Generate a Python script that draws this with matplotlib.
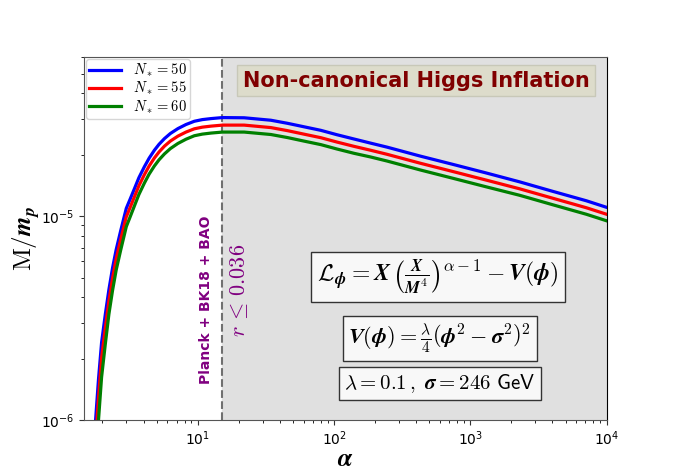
import matplotlib.pyplot as plt

plt.rcParams['mathtext.fontset'] = 'cm'

# alpha values (shared by all three curves)
alpha = [1.72, 1.78, 1.87, 1.97, 2.1, 2.23, 2.37, 2.52, 2.72, 2.99, 3.2, 3.44,
         3.7, 4.06, 4.4, 4.81, 5.2, 5.7, 6.3, 7.15, 8.2, 9.44, 10.8, 12.5, 15.2,
         21.9, 34.4, 45.5, 60, 80, 105, 140, 185, 245, 430, 750, 1300, 2300,
         4000, 7100, 10000]

# M/m_p
M_50 = [7.24e-7, 1.000e-6, 1.585e-6, 2.399e-6, 3.311e-6, 4.365e-6, 5.559e-6,
        6.839e-6, 8.472e-6, 1.091e-5, 1.216e-5, 1.368e-5, 1.542e-5, 1.746e-5,
        1.923e-5, 2.104e-5, 2.249e-5, 2.399e-5, 2.541e-5, 2.685e-5, 2.812e-5,
        2.917e-5, 2.972e-5, 3.006e-5, 3.041e-5, 3.034e-5, 2.951e-5, 2.851e-5,
        2.742e-5, 2.633e-5, 2.506e-5, 2.388e-5, 2.280e-5, 2.178e-5, 1.968e-5,
        1.791e-5, 1.629e-5, 1.472e-5, 1.324e-5, 1.189e-5, 1.104e-5]
M_55 = [5.754e-7, 7.943e-7, 1.288e-6, 2.018e-6, 2.851e-6, 3.846e-6, 4.955e-6,
        6.166e-6, 7.674e-6, 9.908e-6, 1.107e-5, 1.247e-5, 1.408e-5, 1.596e-5,
        1.760e-5, 1.928e-5, 2.062e-5, 2.203e-5, 2.333e-5, 2.466e-5, 2.582e-5,
        2.679e-5, 2.729e-5, 2.761e-5, 2.793e-5, 2.793e-5, 2.716e-5, 2.624e-5,
        2.523e-5, 2.423e-5, 2.307e-5, 2.198e-5, 2.104e-5, 2.009e-5, 1.816e-5,
        1.652e-5, 1.503e-5, 1.361e-5, 1.225e-5, 1.099e-5, 1.021e-5]
M_60 = [4.365e-7, 6.026e-7, 1.000e-6, 1.622e-6, 2.371e-6, 3.311e-6, 4.315e-6,
        5.433e-6, 6.808e-6, 8.872e-6, 9.954e-6, 1.127e-5, 1.276e-5, 1.452e-5,
        1.607e-5, 1.762e-5, 1.888e-5, 2.018e-5, 2.143e-5, 2.270e-5, 2.382e-5,
        2.477e-5, 2.523e-5, 2.553e-5, 2.582e-5, 2.582e-5, 2.512e-5, 2.427e-5,
        2.333e-5, 2.241e-5, 2.133e-5, 2.032e-5, 1.950e-5, 1.862e-5, 1.683e-5,
        1.531e-5, 1.393e-5, 1.265e-5, 1.138e-5, 1.021e-5, 9.484e-6]

labels = [r'$\boldsymbol{N_*} = \mathbf{50}$', r'$\boldsymbol{N_*} = \mathbf{55}$',
          r'$\boldsymbol{N_*} = \mathbf{60}$']
colors = ['blue', 'red', 'green']
r_bound = 15   # alpha where r <= 0.036 starts

fig, ax = plt.subplots(figsize=(6.74, 4.72))

ax.axvspan(r_bound, 1e4, color='#e0e0e0', zorder=0)
ax.axvline(r_bound, color='#707070', ls='--', lw=1.5, zorder=1)

for M, lab, c in zip([M_50, M_55, M_60], labels, colors):
    ax.plot(alpha, M, color=c, lw=2.3, label=lab)

ax.set_xscale('log')
ax.set_yscale('log')
ax.set_xlim(1.47, 1e4)
ax.set_ylim(1e-6, 6.05e-5)

ax.set_xlabel(r'$\boldsymbol{\alpha}$', fontsize=18, labelpad=-1)
ax.set_ylabel(r'$\mathrm{M}/\boldsymbol{m}_{\boldsymbol{p}}$', fontsize=18, labelpad=-1)
ax.tick_params(labelsize=10, colors='#333333', labelcolor='black')
for s in ['left', 'top', 'bottom']:
    ax.spines[s].set_color('#555555')
ax.spines['right'].set_color('black')

ax.legend(loc='upper left', fontsize=10.5, handlelength=2.2, borderaxespad=0.15,
          labelspacing=0.05, borderpad=0.2, handletextpad=0.8)

ax.text(0.635, 0.934, 'Non-canonical Higgs Inflation', transform=ax.transAxes,
        ha='center', va='center', fontsize=15, fontweight='bold', color='#800000',
        bbox=dict(boxstyle='square,pad=0.25', fc='#dddccb', ec='#c8c8b8'))

ax.text(0.233, 0.33, 'Planck + BK18 + BAO', transform=ax.transAxes, ha='center',
        va='center', rotation=90, fontsize=10, fontweight='bold', color='purple')
ax.text(0.296, 0.357, r'$r\,\leq\,0.036$', transform=ax.transAxes, ha='center',
        va='center', rotation=90, fontsize=16, color='purple')

box = dict(boxstyle='square,pad=0.25', fc='#f8f8f8', ec='#333333')
ax.text(0.677, 0.393,
        r'$\mathcal{L}_{\boldsymbol{\phi}} = \boldsymbol{X}\,\left(\frac{\boldsymbol{X}}{\boldsymbol{M}^4}\right)^{\alpha-1} - \boldsymbol{V}(\boldsymbol{\phi})$',
        transform=ax.transAxes, ha='center', va='center', fontsize=17, bbox=box)
ax.text(0.681, 0.224,
        r'$\boldsymbol{V}(\boldsymbol{\phi}) = \frac{\boldsymbol{\lambda}}{4}\left(\boldsymbol{\phi}^2-\boldsymbol{\sigma}^2\right)^2$',
        transform=ax.transAxes, ha='center', va='center', fontsize=16, bbox=box)
ax.text(0.681, 0.10,
        r'$\boldsymbol{\lambda} = \mathbf{0.1}\,,\ \boldsymbol{\sigma} = \mathbf{246}$ $\mathsf{GeV}$',
        transform=ax.transAxes, ha='center', va='center', fontsize=15, bbox=box)

fig.savefig('out.png', dpi=100)
